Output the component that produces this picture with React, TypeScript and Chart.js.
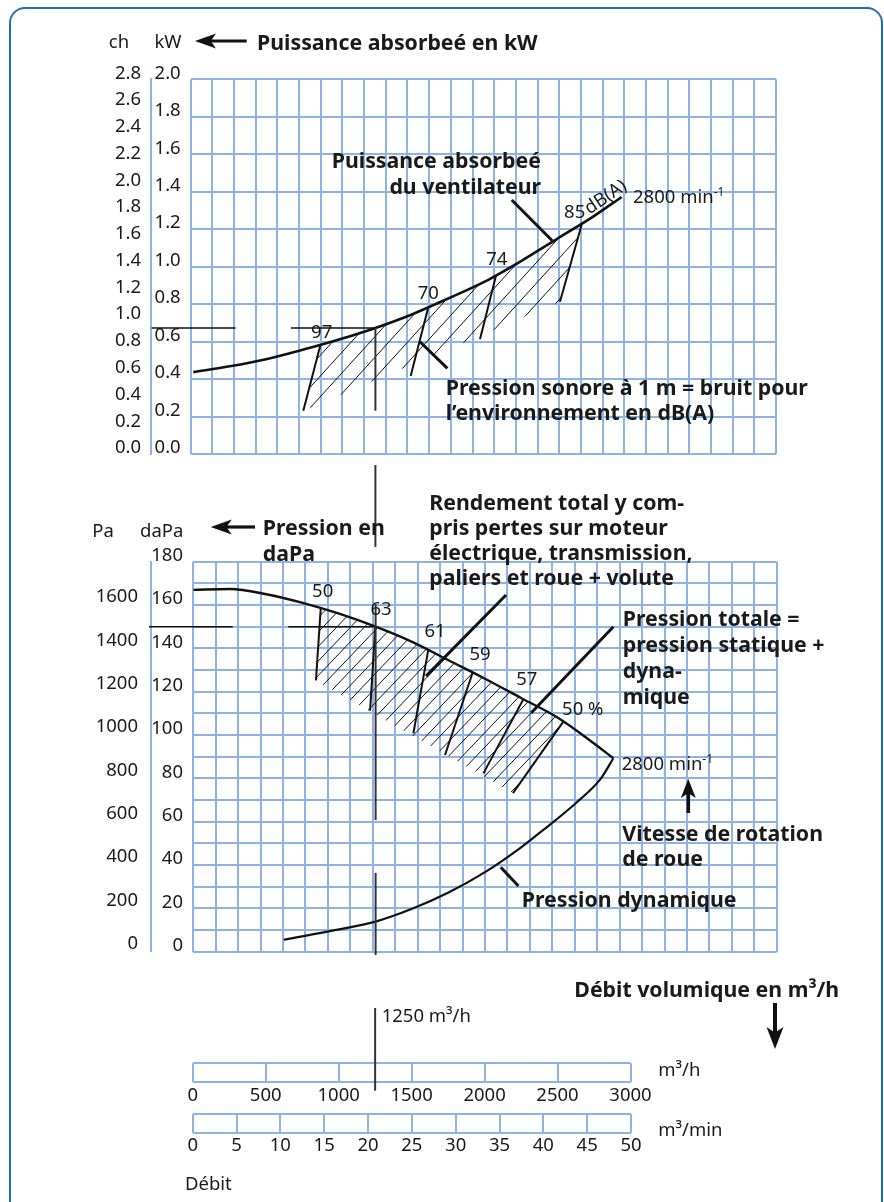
import React, { useEffect, useRef } from 'react';
import { Chart, registerables } from 'chart.js';

Chart.register(...registerables);

const PAGE_W = 884;
const PAGE_H = 1202;
const FONT = "'Noto Sans', 'Open Sans', 'DejaVu Sans', sans-serif";
const INK = '#111111';
const TEXT = '#1a1a1a';
const GRID = '#8db4e2';
const FRAME = '#1b6fc2';
const REG = 18.5;
const BOLD = 21.3;

Chart.defaults.font.family = FONT;
Chart.defaults.color = TEXT;

// ---------- tick labels ----------
const CH_TICKS = [0, 0.2, 0.4, 0.6, 0.8, 1.0, 1.2, 1.4, 1.6, 1.8, 2.0, 2.2, 2.4, 2.6, 2.8];
const KW_TICKS = [0, 0.2, 0.4, 0.6, 0.8, 1.0, 1.2, 1.4, 1.6, 1.8, 2.0];
const DAPA_TICKS = [0, 10, 20, 30, 40, 50, 60, 70, 80, 90, 100, 110, 120, 130, 140, 150, 160, 170, 180];
const PA_TICKS = [0, 200, 400, 600, 800, 1000, 1200, 1400, 1600];
const FLOW_H_TICKS = [0, 500, 1000, 1500, 2000, 2500, 3000];
const FLOW_MIN_TICKS = [0, 5, 10, 15, 20, 25, 30, 35, 40, 45, 50];

// ---------- operating point ----------
const OPERATING_FLOW = 1250;
const OPERATING_KW = 0.673;
const OPERATING_DAPA = 150;
const NOMINAL_SPEED = 2800;

// ---------- absorbed power (kW) vs flow (m³/h) ----------
const FLOW_POWER = [0, 250, 500, 750, 1000, 1250, 1500, 1750, 2000, 2250, 2500, 2750, 2940];
const KW_POWER = [0.437, 0.468, 0.506, 0.556, 0.611, 0.673, 0.745, 0.83, 0.92, 1.03, 1.15, 1.27, 1.372];

// ---------- sound pressure iso-lines dB(A) ----------
const DB_LABELS = ['97', '70', '74', '85'];
const DB_TOP_FLOW = [873, 1613, 2078, 2666];
const DB_TOP_KW = [0.583, 0.783, 0.953, 1.225];
const DB_BOTTOM_FLOW = [755, 1492, 1968, 2517];
const DB_BOTTOM_KW = [0.231, 0.416, 0.612, 0.813];

// ---------- total pressure (daPa) ----------
const FLOW_PTOT = [0, 250, 500, 750, 1000, 1250, 1500, 1750, 2000, 2250, 2500, 2750, 2880];
const DAPA_PTOT = [167, 167.4, 165, 161, 156, 150, 143, 134.5, 126, 117, 108, 96, 89.3];

// ---------- dynamic pressure (daPa) ----------
const FLOW_PDYN = [620, 1000, 1250, 1500, 1750, 2000, 2250, 2400, 2630, 2790, 2880];
const DAPA_PDYN = [5.5, 10.3, 13.9, 19.8, 27.3, 36.7, 48.3, 56.2, 69, 79.5, 89.3];

// ---------- efficiency iso-lines (%) ----------
const EFF_LABELS = ['50', '63', '61', '59', '57', '50 %'];
const EFF_TOP_FLOW = [874, 1248, 1611, 1916, 2263, 2537];
const EFF_TOP_DAPA = [158.8, 150.1, 139.3, 129, 116.5, 106.2];
const EFF_BOTTOM_FLOW = [841, 1212, 1509, 1726, 1989, 2192];
const EFF_BOTTOM_DAPA = [125.2, 111.2, 100.8, 90.8, 82.3, 73.2];

// annotation anchors (data space)
const DB_LABEL_AT = [[881, 0.647], [1613, 0.858], [2083, 1.035], [2618, 1.289]];
const EFF_LABEL_AT = [[887, 166.2], [1287, 158], [1657, 147.7], [1966, 137], [2286, 125.7], [2670, 111.6]];

// ---------- drawing helpers ----------
function seg(ctx: any, a: number[], b: number[], w: number, color = INK) {
  ctx.save();
  ctx.beginPath();
  ctx.moveTo(a[0], a[1]);
  ctx.lineTo(b[0], b[1]);
  ctx.lineWidth = w;
  ctx.strokeStyle = color;
  ctx.lineCap = 'butt';
  ctx.stroke();
  ctx.restore();
}

function arrow(ctx: any, tail: number[], tip: number[], shaft = 3.2, headLen = 20, headW = 15) {
  const dx = tip[0] - tail[0];
  const dy = tip[1] - tail[1];
  const L = Math.hypot(dx, dy);
  const ux = dx / L, uy = dy / L;
  const nx = -uy, ny = ux;
  const bx = tip[0] - ux * headLen, by = tip[1] - uy * headLen;
  seg(ctx, tail, [tip[0] - ux * headLen * 0.6, tip[1] - uy * headLen * 0.6], shaft);
  ctx.save();
  ctx.beginPath();
  ctx.moveTo(tip[0], tip[1]);
  ctx.lineTo(bx + (nx * headW) / 2, by + (ny * headW) / 2);
  ctx.lineTo(tip[0] - ux * headLen * 0.75, tip[1] - uy * headLen * 0.75);
  ctx.lineTo(bx - (nx * headW) / 2, by - (ny * headW) / 2);
  ctx.closePath();
  ctx.fillStyle = INK;
  ctx.fill();
  ctx.restore();
}

function text(ctx: any, s: string, x: number, y: number) {
  ctx.save();
  ctx.font = `${REG}px ${FONT}`;
  ctx.fillStyle = TEXT;
  ctx.textAlign = 'center';
  ctx.textBaseline = 'middle';
  ctx.fillText(s, x, y);
  ctx.restore();
}

function hatchRegion(ctx: any, curve: number[][], lt: number[], lb: number[], rt: number[], rb: number[], slope: number, step: number) {
  const poly = [lb, lt, ...curve.filter((p) => p[0] > lt[0] + 1 && p[0] < rt[0] - 1), rt, rb];
  ctx.save();
  ctx.beginPath();
  poly.forEach((p, i) => (i ? ctx.lineTo(p[0], p[1]) : ctx.moveTo(p[0], p[1])));
  ctx.closePath();
  ctx.clip();
  const cs = poly.map((p) => p[1] + slope * p[0]);
  const xs = poly.map((p) => p[0]);
  const x0 = Math.min(...xs) - 5;
  const x1 = Math.max(...xs) + 5;
  const cMin = Math.min(...cs);
  const cMax = Math.max(...cs);
  ctx.beginPath();
  for (let c = cMin + step * 0.5; c < cMax; c += step) {
    ctx.moveTo(x0, c - slope * x0);
    ctx.lineTo(x1, c - slope * x1);
  }
  ctx.lineWidth = 1;
  ctx.strokeStyle = INK;
  ctx.stroke();
  ctx.restore();
}

const gridOpts = { color: GRID, lineWidth: 2, drawTicks: false };
const tickFont = { size: REG, family: FONT };
const setTicks = (vals: number[]) => (s: any) => {
  s.ticks = vals.map((v) => ({ value: v }));
};
const evenTicks = (min: number, max: number, n: number) => (s: any) => {
  s.ticks = Array.from({ length: n + 1 }, (_, i) => ({ value: min + (i * (max - min)) / n }));
};
const baseOpts = {
  responsive: false,
  animation: false as const,
  events: [] as any[],
  plugins: { legend: { display: false }, tooltip: { enabled: false } },
};
const lineDs = (pts: { x: number; y: number }[], w: number, smooth = false) => ({
  data: pts,
  showLine: true,
  borderColor: INK,
  borderWidth: w,
  pointRadius: 0,
  ...(smooth ? { cubicInterpolationMode: 'monotone' } : {}),
});

// ---------- top panel: absorbed power ----------
const topOverlay = {
  id: 'topOverlay',
  beforeDatasetsDraw(chart: any) {
    const { ctx } = chart;
    const X = chart.scales.x, Y = chart.scales.y;
    const P = (f: number, k: number) => [X.getPixelForValue(f), Y.getPixelForValue(k)];
    const n = DB_LABELS.length - 1;
    const pts = chart.getDatasetMeta(0).data.map((e: any) => [e.x, e.y]);
    hatchRegion(
      ctx, pts,
      P(DB_TOP_FLOW[0], DB_TOP_KW[0]), P(DB_BOTTOM_FLOW[0], DB_BOTTOM_KW[0]),
      P(DB_TOP_FLOW[n], DB_TOP_KW[n]), P(DB_BOTTOM_FLOW[n], DB_BOTTOM_KW[n]),
      1.1, 20.7
    );
  },
  afterDatasetsDraw(chart: any) {
    const { ctx } = chart;
    const X = chart.scales.x, Y = chart.scales.y;
    const P = (f: number, k: number) => [X.getPixelForValue(f), Y.getPixelForValue(k)];
    seg(ctx, P(2186, 1.356), P(2471, 1.133), 3);
    seg(ctx, P(1556, 0.599), P(1744, 0.457), 3);
    seg(ctx, P(-286, OPERATING_KW), P(290, OPERATING_KW), 1.5);
    seg(ctx, P(670, OPERATING_KW), P(OPERATING_FLOW, OPERATING_KW), 1.5);
    seg(ctx, P(OPERATING_FLOW, OPERATING_KW), P(OPERATING_FLOW, 0.231), 2, '#333');
    seg(ctx, P(OPERATING_FLOW, -0.059), P(OPERATING_FLOW, -0.496), 2, '#333');
    DB_LABELS.forEach((t, i) => {
      const p = P(DB_LABEL_AT[i][0], DB_LABEL_AT[i][1]);
      text(ctx, t, p[0], p[1]);
    });
    const d = P(2831, 1.37);
    ctx.save();
    ctx.translate(d[0], d[1]);
    ctx.rotate((-34 * Math.PI) / 180);
    text(ctx, 'dB(A)', 0, 0);
    ctx.restore();
    arrow(ctx, [246.7, 41], [195, 41], 3.2, 21, 15);
  },
};

function makeTop(canvas: HTMLCanvasElement) {
  return new Chart(canvas, {
    type: 'scatter',
    data: {
      datasets: [
        lineDs(FLOW_POWER.map((x, i) => ({ x, y: KW_POWER[i] })), 2.6, true),
        ...DB_LABELS.map((_, i) =>
          lineDs([{ x: DB_TOP_FLOW[i], y: DB_TOP_KW[i] }, { x: DB_BOTTOM_FLOW[i], y: DB_BOTTOM_KW[i] }], 2)
        ),
      ] as any,
    },
    options: {
      ...baseOpts,
      layout: { padding: { left: 101, right: 108, top: 79.3, bottom: PAGE_H - 454 } },
      scales: {
        x: {
          type: 'linear', min: -18, max: 4000,
          afterBuildTicks: evenTicks(-18, 4000, 27),
          ticks: { display: false },
          grid: gridOpts, border: { display: false },
          afterFit: (s: any) => { s.height = 0; },
        },
        y: {
          type: 'linear', position: 'left', min: 0, max: 2, weight: 0,
          afterBuildTicks: setTicks(KW_TICKS),
          ticks: { callback: (v: any) => Number(v).toFixed(1), padding: 10, labelOffset: -6, autoSkip: false, font: tickFont, color: TEXT },
          grid: gridOpts, border: { display: false },
          afterFit: (s: any) => { s.width = 39.7; },
        },
        ych: {
          type: 'linear', axis: 'y', position: 'left', min: 0, max: 2.8, weight: 1,
          afterBuildTicks: setTicks(CH_TICKS),
          ticks: { callback: (v: any) => Number(v).toFixed(1), padding: 10, labelOffset: -6, autoSkip: false, font: tickFont, color: TEXT },
          grid: { display: false, drawTicks: false },
          border: { display: true, color: GRID, width: 2 },
          afterFit: (s: any) => { s.width = 50; },
        },
      } as any,
    } as any,
    plugins: [topOverlay],
  });
}

// ---------- bottom panel: pressures ----------
const bottomOverlay = {
  id: 'bottomOverlay',
  beforeDatasetsDraw(chart: any) {
    const { ctx } = chart;
    const X = chart.scales.x, Y = chart.scales.y;
    const P = (f: number, k: number) => [X.getPixelForValue(f), Y.getPixelForValue(k)];
    const n = EFF_LABELS.length - 1;
    const pts = chart.getDatasetMeta(0).data.map((e: any) => [e.x, e.y]);
    hatchRegion(
      ctx, pts,
      P(EFF_TOP_FLOW[0], EFF_TOP_DAPA[0]), P(EFF_BOTTOM_FLOW[0], EFF_BOTTOM_DAPA[0]),
      P(EFF_TOP_FLOW[n], EFF_TOP_DAPA[n]), P(EFF_BOTTOM_FLOW[n], EFF_BOTTOM_DAPA[n]),
      1.05, 14.5
    );
  },
  afterDatasetsDraw(chart: any) {
    const { ctx } = chart;
    const X = chart.scales.x, Y = chart.scales.y;
    const P = (f: number, k: number) => [X.getPixelForValue(f), Y.getPixelForValue(k)];
    seg(ctx, P(2144, 164.6), P(1596, 127.2), 3);
    seg(ctx, P(2880, 150), P(2316, 110.2), 3);
    seg(ctx, P(2108, 39), P(2229, 30.3), 3);
    seg(ctx, P(-304, OPERATING_DAPA), P(270, OPERATING_DAPA), 1.5);
    seg(ctx, P(651, OPERATING_DAPA), P(OPERATING_FLOW, OPERATING_DAPA), 1.5);
    seg(ctx, P(OPERATING_FLOW, 160.5), P(OPERATING_FLOW, 60.8), 2, '#333');
    seg(ctx, P(OPERATING_FLOW, 36.4), P(OPERATING_FLOW, -1.5), 2, '#333');
    EFF_LABELS.forEach((t, i) => {
      const p = P(EFF_LABEL_AT[i][0], EFF_LABEL_AT[i][1]);
      text(ctx, t, p[0], p[1]);
    });
    arrow(ctx, [255, 527], [210.7, 527], 3.2, 21, 15);
    arrow(ctx, [688.3, 813], [688.3, 779], 3.6, 19, 15);
  },
};

function makeBottom(canvas: HTMLCanvasElement) {
  return new Chart(canvas, {
    type: 'scatter',
    data: {
      datasets: [
        lineDs(FLOW_PTOT.map((x, i) => ({ x, y: DAPA_PTOT[i] })), 2.4, true),
        lineDs(FLOW_PDYN.map((x, i) => ({ x, y: DAPA_PDYN[i] })), 2.2, true),
        ...EFF_LABELS.map((_, i) =>
          lineDs([{ x: EFF_TOP_FLOW[i], y: EFF_TOP_DAPA[i] }, { x: EFF_BOTTOM_FLOW[i], y: EFF_BOTTOM_DAPA[i] }], 2)
        ),
      ] as any,
    },
    options: {
      ...baseOpts,
      layout: { padding: { left: 80.7, right: PAGE_W - 776.7, top: 561.7, bottom: PAGE_H - 951.7 } },
      scales: {
        x: {
          type: 'linear', min: 0, max: 4000,
          afterBuildTicks: evenTicks(0, 4000, 26),
          ticks: { display: false },
          grid: gridOpts, border: { display: false },
          afterFit: (s: any) => { s.height = 0; },
        },
        y: {
          type: 'linear', position: 'left', min: 0, max: 180, weight: 0,
          afterBuildTicks: setTicks(DAPA_TICKS),
          ticks: { callback: (v: any) => (Number(v) % 20 === 0 ? String(v) : ''), padding: 10.3, labelOffset: -6, autoSkip: false, font: tickFont, color: TEXT },
          grid: gridOpts, border: { display: false },
          afterFit: (s: any) => { s.width = 42.6; },
        },
        ypa: {
          type: 'linear', axis: 'y', position: 'left', min: 0, max: 1800, weight: 1,
          afterBuildTicks: setTicks(PA_TICKS),
          ticks: { callback: (v: any) => String(v), padding: 12.7, labelOffset: -8, autoSkip: false, font: tickFont, color: TEXT },
          grid: { display: false, drawTicks: false },
          border: { display: true, color: GRID, width: 2 },
          afterFit: (s: any) => { s.width = 70; },
        },
      } as any,
    } as any,
    plugins: [bottomOverlay],
  });
}

// ---------- flow scales ----------
const debitOverlay = {
  id: 'debitOverlay',
  afterDraw(chart: any) {
    const { ctx, chartArea } = chart;
    const xp = chart.scales.x.getPixelForValue(OPERATING_FLOW);
    seg(ctx, [xp, chartArea.top - 55.3], [xp, chartArea.bottom + 8.7], 2, '#333');
    arrow(ctx, [775, 1003], [775, 1049], 4, 22, 17);
  },
};

function makeFlowBar(canvas: HTMLCanvasElement, ticks: number[], max: number, top: number, bottom: number, right: number, pad: number, plugins: any[]) {
  return new Chart(canvas, {
    type: 'scatter',
    data: { datasets: [] },
    options: {
      ...baseOpts,
      layout: { padding: { left: 192.7, right: PAGE_W - right, top, bottom: PAGE_H - bottom - 36 } },
      scales: {
        x: {
          type: 'linear', min: 0, max,
          afterBuildTicks: setTicks(ticks),
          ticks: { callback: (v: any) => String(v), padding: pad, autoSkip: false, maxRotation: 0, font: tickFont, color: TEXT },
          grid: gridOpts, border: { display: false },
          afterFit: (s: any) => { s.height = 36; },
        },
        y: {
          type: 'linear', min: 0, max: 1,
          afterBuildTicks: setTicks([0, 1]),
          ticks: { display: false },
          grid: gridOpts, border: { display: false },
          afterFit: (s: any) => { s.width = 0; },
        },
      } as any,
    } as any,
    plugins,
  });
}

// ---------- html text (y = centre of the first line) ----------
function Txt({ x, y, lines, bold = false, size, lh = 25, anchor = 'left' }: any) {
  const fs = size ?? (bold ? BOLD : REG);
  const style: any = {
    position: 'absolute',
    top: y - lh / 2,
    lineHeight: `${lh}px`,
    fontSize: fs,
    fontWeight: bold ? 700 : 400,
    whiteSpace: 'pre',
    color: TEXT,
  };
  if (anchor === 'left') style.left = x;
  else if (anchor === 'right') {
    style.right = PAGE_W - x;
    style.textAlign = 'right';
  } else {
    style.left = x - 100;
    style.width = 200;
    style.textAlign = 'center';
  }
  return (
    <div style={style}>
      {lines.map((l: any, i: number) => (
        <div key={i}>{l}</div>
      ))}
    </div>
  );
}

const speed = (
  <span>
    {String(NOMINAL_SPEED)} min<span style={{ fontSize: 12, position: 'relative', top: -7 }}>-1</span>
  </span>
);

export default function App() {
  const c1 = useRef<HTMLCanvasElement>(null);
  const c2 = useRef<HTMLCanvasElement>(null);
  const c3 = useRef<HTMLCanvasElement>(null);
  const c4 = useRef<HTMLCanvasElement>(null);

  useEffect(() => {
    const charts = [
      makeTop(c1.current!),
      makeBottom(c2.current!),
      makeFlowBar(c3.current!, FLOW_H_TICKS, 3000, 1063.3, 1082, 630.5, 2.6, [debitOverlay]),
      makeFlowBar(c4.current!, FLOW_MIN_TICKS, 50, 1114, 1132.7, 631, 1.9, []),
    ];
    return () => charts.forEach((c) => c.destroy());
  }, []);

  const cv = { position: 'absolute' as const, left: 0, top: 0 };

  return (
    <div style={{ position: 'absolute', left: 0, top: 0, width: PAGE_W, height: PAGE_H, overflow: 'hidden', background: '#fff', fontFamily: FONT, color: TEXT }}>
      <div style={{ position: 'absolute', left: 9, top: 7, width: 873.5, height: 1250, border: `2.5px solid ${FRAME}`, borderRadius: 16, boxSizing: 'border-box' }} />
      <canvas ref={c1} width={PAGE_W} height={PAGE_H} style={cv} />
      <canvas ref={c2} width={PAGE_W} height={PAGE_H} style={cv} />
      <canvas ref={c3} width={PAGE_W} height={PAGE_H} style={cv} />
      <canvas ref={c4} width={PAGE_W} height={PAGE_H} style={cv} />
      <div style={{ position: 'absolute', left: 0, top: 0, width: PAGE_W, height: PAGE_H, pointerEvents: 'none' }}>
        {/* top panel */}
        <Txt x={119} y={40} lines={['ch']} anchor="center" />
        <Txt x={168} y={40} lines={['kW']} anchor="center" />
        <Txt x={257} y={41} lines={['Puissance absorbeé en kW']} bold />
        <Txt x={541} y={160} lh={26} lines={['Puissance absorbeé', 'du ventilateur']} bold anchor="right" />
        <Txt x={633} y={195} lines={[speed]} />
        <Txt x={445.7} y={386.7} lh={25.6} lines={['Pression sonore à 1 m = bruit pour', 'l’environnement en dB(A)']} bold />
        {/* bottom panel */}
        <Txt x={103} y={529} lines={['Pa']} anchor="center" />
        <Txt x={161.7} y={529} lines={['daPa']} anchor="center" />
        <Txt x={262.7} y={527} lh={25.7} lines={['Pression en', 'daPa']} bold />
        <Txt x={429.3} y={501.7} lh={25} lines={['Rendement total y com-', 'pris pertes sur moteur', 'électrique, transmission,', 'paliers et roue + volute']} bold />
        <Txt x={622.7} y={618.3} lh={26} lines={['Pression totale =', 'pression statique +', 'dyna-', 'mique']} bold />
        <Txt x={621.7} y={762.7} lines={[speed]} />
        <Txt x={622.3} y={832.7} lh={25} lines={['Vitesse de rotation', 'de roue']} bold />
        <Txt x={521.7} y={898.3} lines={['Pression dynamique']} bold />
        {/* flow scales */}
        <Txt x={574.3} y={988.3} lines={['Débit volumique en m³/h']} bold />
        <Txt x={381.7} y={1014} lines={['1250 m³/h']} />
        <Txt x={658.3} y={1068.3} lines={['m³/h']} />
        <Txt x={658.3} y={1128.3} lines={['m³/min']} />
        <Txt x={185} y={1182.7} lines={['Débit']} />
      </div>
    </div>
  );
}
